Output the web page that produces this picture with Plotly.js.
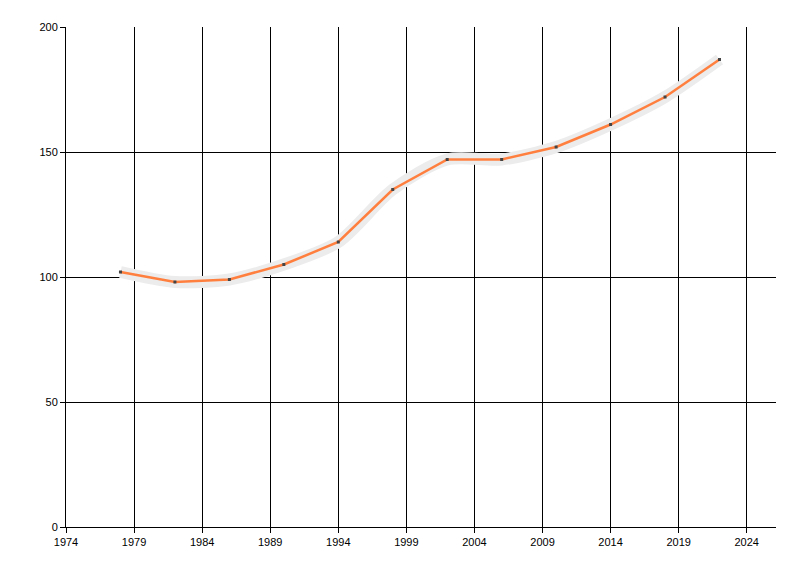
<!DOCTYPE html>
<html>
<head>
<meta charset="utf-8">
<script src="https://cdn.plot.ly/plotly-3.0.1.min.js"></script>
<style>html,body{margin:0;padding:0;background:#fff;}#chart{width:800px;height:576px;}</style>
</head>
<body>
<div id="chart"></div>
<script>
const years = [1978, 1982, 1986, 1990, 1994, 1998, 2002, 2006, 2010, 2014, 2018, 2022];
const values = [102, 98, 99, 105, 114, 135, 147, 147, 152, 161, 172, 187];
const xTicks = [1974, 1979, 1984, 1989, 1994, 1999, 2004, 2009, 2014, 2019, 2024];
const yTicks = [0, 50, 100, 150, 200];

const shadow = {
  x: years, y: values, type: 'scatter', mode: 'lines',
  line: {color: '#ececec', width: 12, shape: 'spline', smoothing: 0.8},
  hoverinfo: 'skip', showlegend: false
};
const main = {
  x: years, y: values, type: 'scatter', mode: 'lines+markers',
  line: {color: '#ff7f3f', width: 2.5},
  marker: {symbol: 'square', size: 3, color: '#444444'},
  showlegend: false
};

const layout = {
  width: 800, height: 576,
  margin: {l: 66, r: 24, t: 27, b: 49},
  paper_bgcolor: '#ffffff', plot_bgcolor: '#ffffff',
  font: {family: 'Liberation Sans, Arial, sans-serif', size: 11, color: '#000'},
  showlegend: false,
  xaxis: {
    range: [1974, 2026.15], tickvals: xTicks, ticktext: xTicks.map(String),
    showgrid: true, gridcolor: '#000', gridwidth: 1,
    showline: true, linecolor: '#000', linewidth: 1,
    ticks: 'outside', ticklen: 5, tickcolor: '#000',
    zeroline: false, fixedrange: true
  },
  yaxis: {
    range: [0, 200], tickvals: yTicks, ticktext: yTicks.map(String),
    showgrid: true, gridcolor: '#000', gridwidth: 1,
    showline: true, linecolor: '#000', linewidth: 1,
    ticks: 'outside', ticklen: 5, tickcolor: '#000',
    zeroline: false, fixedrange: true
  }
};

Plotly.newPlot('chart', [shadow, main], layout, {displayModeBar: false, staticPlot: true});
</script>
</body>
</html>
